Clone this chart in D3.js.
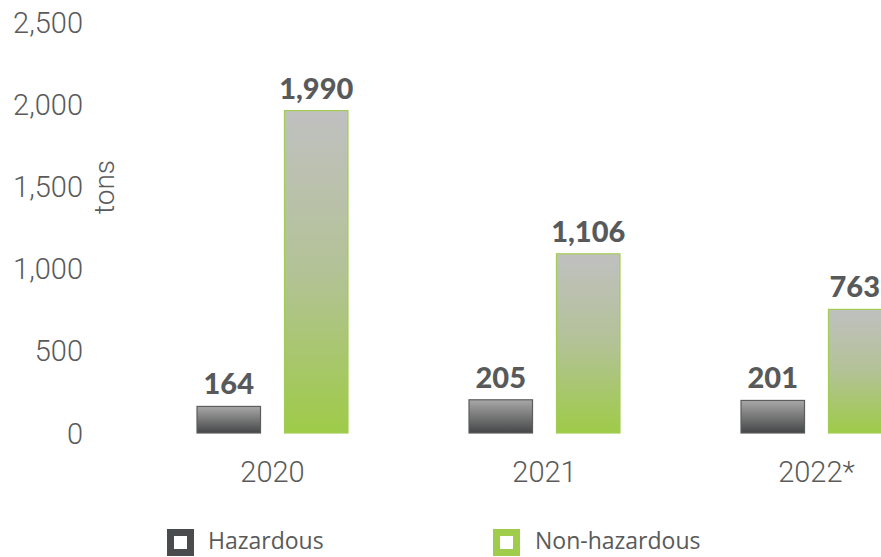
<!DOCTYPE html>
<html>
<head>
<meta charset="utf-8">
<script src="https://cdn.jsdelivr.net/npm/d3@7"></script>
<style>
  html, body { margin: 0; padding: 0; background: #fff; overflow: hidden; }
  svg { display: block; }
</style>
</head>
<body>
<svg id="chart" width="881" height="557"></svg>
<script>
const categories = ["2020", "2021", "2022*"];
const seriesNames = ["Hazardous", "Non-hazardous"];
const hazardous = [164, 205, 201];
const nonHazardous = [1990, 1106, 763];
const yTicks = [0, 500, 1000, 1500, 2000, 2500];
const yLabel = "tons";

const W = 881;
const svg = d3.select("#chart");
const defs = svg.append("defs");

const gHaz = defs.append("linearGradient").attr("id", "gHaz").attr("x1", 0).attr("y1", 0).attr("x2", 0).attr("y2", 1);
gHaz.append("stop").attr("offset", "0%").attr("stop-color", "#a8a8a8");
gHaz.append("stop").attr("offset", "100%").attr("stop-color", "#454647");

const gNon = defs.append("linearGradient").attr("id", "gNon").attr("x1", 0).attr("y1", 0).attr("x2", 0).attr("y2", 1);
gNon.append("stop").attr("offset", "0%").attr("stop-color", "#c0c0c0");
gNon.append("stop").attr("offset", "50%").attr("stop-color", "#b3c296");
gNon.append("stop").attr("offset", "100%").attr("stop-color", "#9ecb48");

const y = d3.scaleLinear().domain([0, 2500]).range([433, 28]);
const x0 = d3.scaleBand().domain(categories).range([136.5, 952.5]).padding(0);
const x1 = d3.scaleBand().domain(seriesNames).range([60.5, 211.5]).paddingInner(0.274).paddingOuter(0);

const textColor = "#58595b";

// Y axis labels
const yAxis = d3.axisLeft(y).tickValues(yTicks).tickSize(0).tickPadding(0).tickFormat(d3.format(","));
const yg = svg.append("g").attr("transform", "translate(83,0)").call(yAxis);
yg.select(".domain").remove();
yg.selectAll("text")
  .attr("fill", "#5a5a5a")
  .style("font-family", "Roboto")
  .style("font-weight", 300)
  .style("font-size", "29px")
  .attr("dy", "0.35em")
  .attr("y", d => -(d / 500) * 1.2);

// Axis title
svg.append("text")
  .attr("transform", "translate(114,187) rotate(-90)")
  .attr("text-anchor", "middle")
  .attr("fill", "#5a5a5a")
  .style("font-family", "Roboto")
  .style("font-weight", 300)
  .style("font-size", "28px")
  .text(yLabel);

// Data rows
const rows = categories.map((c, i) => ({ cat: c, values: [
  { key: seriesNames[0], value: hazardous[i] },
  { key: seriesNames[1], value: nonHazardous[i] }
]}));

const groups = svg.selectAll("g.grp").data(rows).join("g")
  .attr("class", "grp")
  .attr("transform", d => `translate(${x0(d.cat)},0)`);

groups.selectAll("rect").data(d => d.values).join("rect")
  .attr("x", d => x1(d.key))
  .attr("y", d => y(d.value))
  .attr("width", x1.bandwidth())
  .attr("height", d => y(0) - y(d.value))
  .attr("fill", d => d.key === seriesNames[0] ? "url(#gHaz)" : "url(#gNon)")
  .attr("stroke", d => d.key === seriesNames[0] ? "#5c5d5f" : "#a2cd55")
  .attr("stroke-width", 1.2);

groups.each(function(row) {
  const gx = x0(row.cat);
  d3.select(this).selectAll("text.val").data(row.values).join("text")
    .attr("class", "val")
    .attr("y", d => y(d.value) - 12)
    .attr("text-anchor", "middle")
    .attr("fill", textColor)
    .style("font-family", "Lato")
    .style("font-weight", 900)
    .style("font-size", "29px")
    .text(d => d3.format(",")(d.value))
    .attr("x", function(d) {
      const cx = x1(d.key) + x1.bandwidth() / 2;
      const w = this.getComputedTextLength();
      const maxCx = W - 1 - gx - w / 2;
      return Math.min(cx, maxCx);
    });
});

// Category labels
const xAxis = d3.axisBottom(x0).tickSize(0).tickPadding(0);
const xg = svg.append("g").attr("transform", "translate(0,482)").call(xAxis);
xg.select(".domain").remove();
xg.selectAll("text")
  .attr("dy", 0)
  .attr("fill", "#5a5a5a")
  .style("font-family", "Roboto")
  .style("font-weight", 300)
  .style("font-size", "29px");

// Legend
const legendX = [167, 493];
const legendColors = ["#4a4b4d", "#a0cc4c"];
const leg = svg.selectAll("g.leg").data(seriesNames).join("g")
  .attr("class", "leg")
  .attr("transform", (d, i) => `translate(${legendX[i]},529)`);
leg.append("rect")
  .attr("x", 3.5).attr("y", 3.5)
  .attr("width", 20).attr("height", 20)
  .attr("fill", "#fff")
  .attr("stroke", (d, i) => legendColors[i])
  .attr("stroke-width", 7);
leg.append("text")
  .attr("x", (d, i) => i === 0 ? 41 : 42)
  .attr("y", 20)
  .attr("fill", "#5a5a5a")
  .style("font-family", "Open Sans")
  .style("font-size", "23px")
  .text(d => d);
</script>
</body>
</html>
